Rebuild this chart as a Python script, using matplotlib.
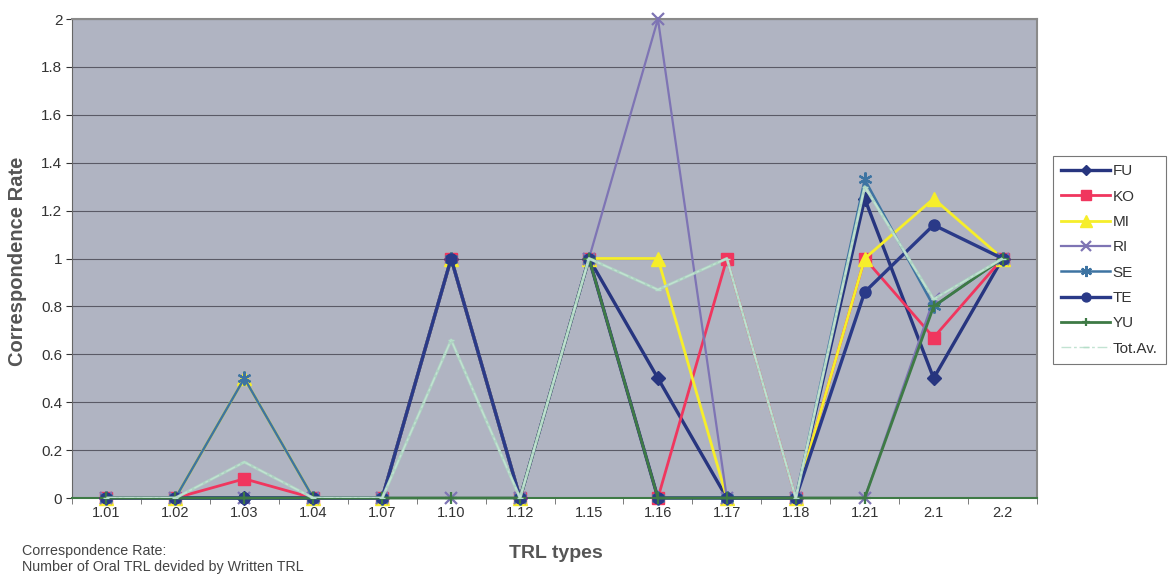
import numpy as np
import matplotlib
matplotlib.use("Agg")
import matplotlib.pyplot as plt
from matplotlib.ticker import FixedLocator, FuncFormatter

plt.rcParams["font.family"] = ["Liberation Sans", "DejaVu Sans"]

# TRL type categories
categories = ["1.01", "1.02", "1.03", "1.04", "1.07", "1.10", "1.12",
              "1.15", "1.16", "1.17", "1.18", "1.21", "2.1", "2.2"]

# Correspondence rate per speaker
fu = [0, 0, 0, 0, 0, 1, 0, 1, 0.5, 0, 0, 1.25, 0.5, 1]
ko = [0, 0, 0.08, 0, 0, 1, 0, 1, 0, 1, 0, 1, 0.67, 1]
mi = [0, 0, 0.5, 0, 0, 1, 0, 1, 1, 0, 0, 1, 1.25, 1]
ri = [0, 0, 0, 0, 0, 0, 0, 1, 2, 0, 0, 0, 0.83, 1]
se = [0, 0, 0.5, 0, 0, 1, 0, 1, 0, 0, 0, 1.33, 0.8, 1]
te = [0, 0, 0, 0, 0, 1, 0, 1, 0, 0, 0, 0.86, 1.14, 1]
yu = [0, 0, 0, 0, 0, 0, 0, 1, 0, 0, 0, 0, 0.8, 1]
tot_av = [0, 0, 0.15, 0, 0, 0.66, 0, 1, 0.87, 1, 0, 1.3, 0.83, 1]

series_names = ["FU", "KO", "MI", "RI", "SE", "TE", "YU", "Tot.Av."]

x = np.arange(len(categories))

fig = plt.figure(figsize=(11.71, 5.76), dpi=100, facecolor="white")
ax = fig.add_axes([0.0615, 0.1354, 0.8241, 0.8316])
ax.set_facecolor("#B0B4C2")

styles = [
    dict(color="#27357F", marker="D", ms=7, lw=2.4),
    dict(color="#F0365E", marker="s", ms=9, lw=2.0),
    dict(color="#F6EE2A", marker="^", ms=10, lw=2.0),
    dict(color="#7E74B4", marker="x", ms=9, lw=1.6, mew=1.6),
    dict(color="#3E74A2", marker=(6, 2, 0), ms=10, lw=1.8, mew=1.6),
    dict(color="#2A3A88", marker="o", ms=8, lw=2.4),
    dict(color="#3E7A45", marker="+", ms=8, lw=2.0, mew=1.6),
]
data = [fu, ko, mi, ri, se, te, yu]

handles = []
for i, (vals, st) in enumerate(zip(data, styles)):
    h, = ax.plot(x, vals, color=st["color"], lw=st["lw"], marker=st["marker"],
                 ms=st["ms"], mfc=st["color"], mec=st["color"],
                 mew=st.get("mew", 1.0), zorder=3 + i, clip_on=False,
                 label=series_names[i])
    handles.append(h)

# total average: pale band with a dash-dot stroke on top
ax.plot(x, tot_av, color="#AED3C2", lw=2.1, zorder=12, clip_on=True,
        solid_capstyle="butt")
h, = ax.plot(x, tot_av, color="#C2E3D2", lw=1.0, ls=(0, (7, 2, 2, 2)),
             marker="_", ms=5, mec="#B4DEC8", zorder=13, clip_on=True,
             label=series_names[-1])
handles.append(h)

ax.set_xlim(-0.5, len(categories) - 0.5)
ax.set_ylim(0, 2)

# category labels centred, tick marks between categories
ax.set_xticks(x)
ax.set_xticklabels(categories, fontsize=10.5, color="#333333")
ax.tick_params(axis="x", which="major", length=0, pad=6)
ax.xaxis.set_minor_locator(FixedLocator(np.arange(-0.5, len(categories), 1.0)))
ax.tick_params(axis="x", which="minor", length=4, color="#666666", direction="out")

yt = np.round(np.arange(0, 2.01, 0.2), 1)
ax.set_yticks(yt)
ax.yaxis.set_major_formatter(FuncFormatter(lambda v, p: f"{v:g}"))
ax.tick_params(axis="y", labelsize=11, colors="#333333", length=4, pad=3)

ax.grid(axis="y", color="#5A5A66", lw=0.8)
ax.set_axisbelow(True)
for side in ["top", "right"]:
    ax.spines[side].set_color("#8A8A8A")
    ax.spines[side].set_linewidth(1.5)
ax.spines["left"].set_color("#666666")
ax.spines["bottom"].set_color("#3E7A45")
ax.spines["bottom"].set_linewidth(1.5)

fig.text(18 / 1171, 1 - 261 / 576, "Correspondence Rate", rotation=90,
         ha="center", va="center", fontsize=14.5, fontweight="bold",
         color="#555555")
fig.text(556 / 1171, 1 - 553 / 576, "TRL types", ha="center", va="center",
         fontsize=14, fontweight="bold", color="#555555")
fig.text(22 / 1171, 1 - 551 / 576, "Correspondence Rate:", ha="left",
         va="center", fontsize=10.3, color="#444444")
fig.text(22 / 1171, 1 - 567 / 576, "Number of Oral TRL devided by Written TRL",
         ha="left", va="center", fontsize=10.3, color="#444444")

leg = fig.legend(handles=handles, loc="upper left",
                 bbox_to_anchor=(1053 / 1171, 1 - 156 / 576), frameon=True,
                 fancybox=False, fontsize=11, handlelength=3.2,
                 labelspacing=0.74, borderpad=0.55, handletextpad=0.15,
                 markerscale=0.8, borderaxespad=0.0)
leg.get_frame().set_edgecolor("#555555")
leg.get_frame().set_linewidth(0.8)
for t in leg.get_texts():
    t.set_color("#333333")

fig.savefig("out.png", dpi=100, facecolor="white")
